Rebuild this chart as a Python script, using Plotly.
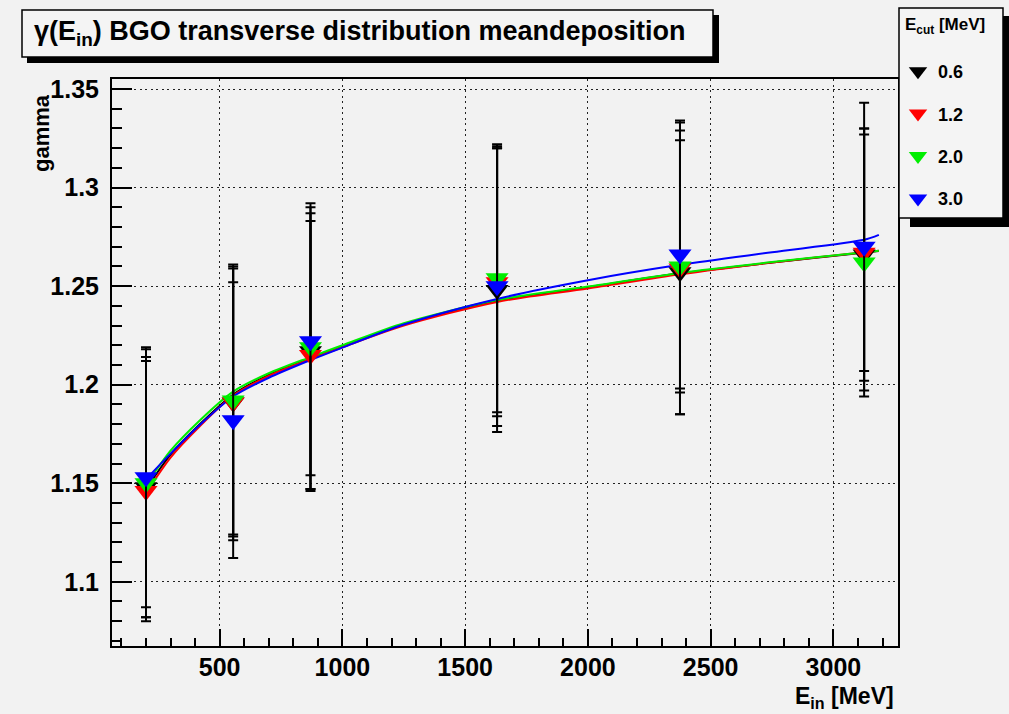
import plotly.graph_objects as go

# Beam energies (MeV) and fitted gamma per E_cut threshold
E_IN = [200, 555, 870, 1630, 2375, 3125]
CUT_LABELS = ["0.6", "1.2", "2.0", "3.0"]
CUT_COLORS = ["#000000", "#ff0000", "#00ee00", "#0000ff"]

GAMMA_06 = [1.148, 1.191, 1.217, 1.248, 1.257, 1.266]
GAMMA_12 = [1.146, 1.191, 1.215, 1.252, 1.259, 1.267]
GAMMA_20 = [1.150, 1.192, 1.219, 1.254, 1.260, 1.262]
GAMMA_30 = [1.153, 1.182, 1.222, 1.250, 1.266, 1.270]

ERR_06 = [0.066, 0.068, 0.070, 0.072, 0.072, 0.064]
ERR_12 = [0.066, 0.070, 0.068, 0.068, 0.074, 0.060]
ERR_20 = [0.068, 0.068, 0.073, 0.068, 0.064, 0.068]
ERR_30 = [0.066, 0.070, 0.068, 0.071, 0.068, 0.073]

# Fit curves sampled along the energy axis
E_FIT = [200, 300, 420, 555, 700, 870, 1000, 1250, 1630, 2000, 2375, 2750, 3125, 3185]
FIT_06 = [1.147, 1.1645, 1.1800, 1.1950, 1.2050, 1.2135, 1.2195, 1.2305, 1.2425, 1.2495, 1.2565, 1.2620, 1.2670, 1.2678]
FIT_12 = [1.145, 1.1630, 1.1790, 1.1945, 1.2045, 1.2130, 1.2190, 1.2300, 1.2420, 1.2488, 1.2560, 1.2620, 1.2672, 1.2680]
FIT_20 = [1.149, 1.1665, 1.1820, 1.1965, 1.2058, 1.2140, 1.2200, 1.2312, 1.2430, 1.2498, 1.2567, 1.2622, 1.2672, 1.2680]
FIT_30 = [1.152, 1.1650, 1.1797, 1.1940, 1.2035, 1.2125, 1.2188, 1.2305, 1.2435, 1.2530, 1.2608, 1.2672, 1.2735, 1.2760]

X_TICKS = [500, 1000, 1500, 2000, 2500, 3000]
X_TICK_TEXT = ["500", "1000", "1500", "2000", "2500", "3000"]
Y_TICKS = [1.1, 1.15, 1.2, 1.25, 1.3, 1.35]
Y_TICK_TEXT = ["1.1", "1.15", "1.2", "1.25", "1.3", "1.35"]

TITLE = "γ(E<sub>in</sub>) BGO transverse distribution meandeposition"
X_TITLE = "E<sub>in</sub> [MeV]"
Y_TITLE = "gamma"
LEGEND_TITLE = "E<sub>cut</sub> [MeV]"

W, H = 1009, 714
L, R, T, B = 112, 111, 79, 68
BG = "#f2f2f2"
FONT = "Liberation Sans, Arial, Helvetica, sans-serif"


def fx(px):
    return (px - L) / (W - L - R)


def fy(py):
    return (H - B - py) / (H - T - B)


gammas = [GAMMA_06, GAMMA_12, GAMMA_20, GAMMA_30]
errors = [ERR_06, ERR_12, ERR_20, ERR_30]
fits = [FIT_06, FIT_12, FIT_20, FIT_30]

fig = go.Figure()

for fit, col in zip(fits, CUT_COLORS):
    fig.add_trace(go.Scatter(
        x=E_FIT, y=fit, mode="lines", line=dict(color=col, width=2, shape="spline", smoothing=0.8),
        showlegend=False, hoverinfo="skip",
    ))

for i, (g, e, col, lab) in enumerate(zip(gammas, errors, CUT_COLORS, CUT_LABELS)):
    fig.add_trace(go.Scatter(
        x=E_IN, y=g, mode="markers", name=lab, legendgroup=f"g{i}",
        marker=dict(symbol="triangle-down", size=20, color=col, line=dict(width=0)),
        error_y=dict(type="data", array=e, visible=True, color="black", thickness=2, width=5),
    ))

shapes = [
    # title box with drop shadow
    dict(type="rect", xref="paper", yref="paper", x0=fx(27), x1=fx(719), y0=fy(63), y1=fy(15),
         fillcolor="black", line=dict(width=0), layer="above"),
    dict(type="rect", xref="paper", yref="paper", x0=fx(22), x1=fx(713), y0=fy(57), y1=fy(10),
         fillcolor="#f4f4f4", line=dict(color="black", width=1.5), layer="above"),
    # legend box with drop shadow
    dict(type="rect", xref="paper", yref="paper", x0=fx(910), x1=fx(1012), y0=fy(227), y1=fy(16),
         fillcolor="black", line=dict(width=0), layer="above"),
    dict(type="rect", xref="paper", yref="paper", x0=fx(899), x1=fx(1003), y0=fy(218), y1=fy(8),
         fillcolor="#f4f4f4", line=dict(color="black", width=1.5), layer="above"),
]

annotations = [
    dict(text=TITLE, xref="paper", yref="paper", x=fx(32), y=fy(33), xanchor="left", yanchor="middle",
         showarrow=False, font=dict(family=FONT, size=27, color="black", weight="bold")),
    dict(text=X_TITLE, xref="paper", yref="paper", x=fx(896), y=fy(697), xanchor="right", yanchor="middle",
         showarrow=False, font=dict(family=FONT, size=23, color="black", weight="bold")),
    dict(text=Y_TITLE, xref="paper", yref="paper", x=fx(41), y=fy(92), xanchor="center", yanchor="top",
         textangle=-90, showarrow=False, font=dict(family=FONT, size=22, color="black", weight="bold")),
    dict(text=LEGEND_TITLE, xref="paper", yref="paper", x=fx(903), y=fy(26), xanchor="left", yanchor="middle",
         showarrow=False, font=dict(family=FONT, size=17, color="black", weight="bold")),
]

axis_common = dict(
    showline=True, linecolor="black", linewidth=2, mirror=True,
    ticks="inside", tickwidth=2, tickcolor="black",
    showgrid=True, gridcolor="#222222", gridwidth=1.2, griddash="2px,3.5px",
    zeroline=False,
    tickfont=dict(family=FONT, size=25, color="black", weight="bold"),
)

fig.update_xaxes(
    range=[61.5, 3263], tickmode="array", tickvals=X_TICKS, ticktext=X_TICK_TEXT, ticklen=17,
    minor=dict(dtick=100, tick0=0, ticks="inside", ticklen=8, tickwidth=2, tickcolor="black", showgrid=False),
    ticklabelstandoff=-2,
    **axis_common,
)
fig.update_yaxes(
    range=[1.0674, 1.3551], tickmode="array", tickvals=Y_TICKS, ticktext=Y_TICK_TEXT, ticklen=20,
    minor=dict(dtick=0.01, tick0=1.0, ticks="inside", ticklen=10, tickwidth=2, tickcolor="black", showgrid=False),
    ticklabelstandoff=6,
    **axis_common,
)

fig.update_layout(
    width=W, height=H, autosize=False,
    margin=dict(l=L, r=R, t=T, b=B, pad=0),
    paper_bgcolor=BG, plot_bgcolor=BG,
    shapes=shapes, annotations=annotations,
    showlegend=True,
    legend=dict(
        x=fx(898), y=fy(53), xanchor="left", yanchor="top",
        bgcolor="rgba(0,0,0,0)", borderwidth=0,
        traceorder="grouped", tracegroupgap=16,
        font=dict(family=FONT, size=18, color="black", weight="bold"),
        itemsizing="trace",
    ),
)

fig.write_html("out.html")
